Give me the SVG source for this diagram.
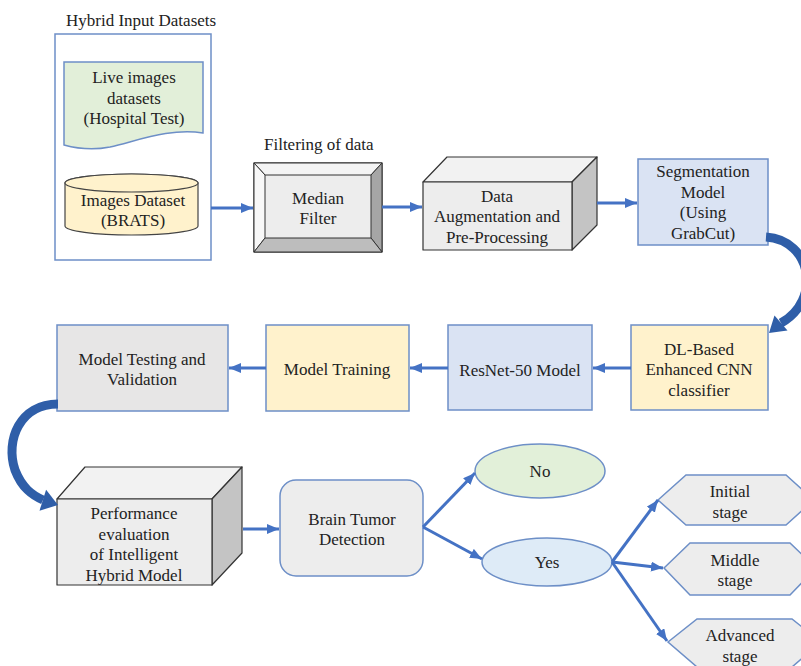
<svg xmlns="http://www.w3.org/2000/svg" width="801" height="666" viewBox="0 0 801 666">
<defs>
<style>
text{font-family:"Liberation Serif","Times New Roman",serif;font-size:17px;fill:#222;text-anchor:middle}
.lbl{text-anchor:start}
.box{stroke:#6d8fc7;stroke-width:1.5}
.cube{stroke:#333;stroke-width:1.2;stroke-linejoin:round}
.conn{stroke:#4472c4;stroke-width:3;fill:none}
.thick{stroke:#2f5ea8;stroke-width:9;fill:none}
</style>
<marker id="ah" viewBox="0 0 12 10" refX="12" refY="5" markerWidth="12" markerHeight="10" markerUnits="userSpaceOnUse" orient="auto">
<path d="M0,0 L12,5 L0,10 Z" fill="#4472c4"/>
</marker>
</defs>
<rect width="801" height="666" fill="#fff"/>

<g id="input-datasets">
<text class="lbl" x="66" y="26">Hybrid Input Datasets</text>
<rect x="55" y="34" width="156" height="226" fill="#fff" class="box"/>
</g>
<g id="live-images">
<path d="M64,62 H203 V133 C170,128 140,140 110,147 C90,151 75,148 64,145 Z" fill="#e2efd9" class="box"/>
<text x="134" y="83">Live images</text>
<text x="134" y="104">datasets</text>
<text x="134" y="124">(Hospital Test)</text>
</g>
<g id="brats">
<path d="M65,183 A66.5,9 0 0 1 198,183 V226 A66.5,9 0 0 1 65,226 Z" fill="#fff2cc" stroke="#444" stroke-width="1.2"/>
<ellipse cx="131.5" cy="183" rx="66.5" ry="9" fill="#fff2cc" stroke="#444" stroke-width="1.2"/>
<text x="133" y="206">Images Dataset</text>
<text x="133" y="226">(BRATS)</text>
</g>

<g id="median-filter">
<text class="lbl" x="264" y="150">Filtering of data</text>
<rect x="254" y="163" width="128" height="89" fill="#ededed" stroke="#333" stroke-width="1.2"/>
<polygon points="254,163 382,163 371,175 265,175" fill="#f4f4f4" stroke="#333" stroke-width="1"/>
<polygon points="254,163 265,175 265,238 254,252" fill="#f8f8f8" stroke="#333" stroke-width="1"/>
<polygon points="382,163 382,252 371,238 371,175" fill="#a6a6a6" stroke="#333" stroke-width="1"/>
<polygon points="254,252 265,238 371,238 382,252" fill="#bdbdbd" stroke="#333" stroke-width="1"/>
<text x="318" y="204">Median</text>
<text x="318" y="224">Filter</text>
</g>

<g id="data-augmentation">
<polygon points="423,182 447,157 597,157 572,182" fill="#f2f2f2" class="cube"/>
<polygon points="572,182 597,157 597,225 572,250" fill="#c4c4c4" class="cube"/>
<rect x="423" y="182" width="149" height="68" fill="#ededed" class="cube"/>
<text x="497" y="202">Data</text>
<text x="497" y="222">Augmentation and</text>
<text x="497" y="243">Pre-Processing</text>
</g>

<g id="segmentation">
<rect x="638" y="159" width="130" height="86" fill="#dae3f3" class="box"/>
<text x="703" y="177">Segmentation</text>
<text x="703" y="198">Model</text>
<text x="703" y="218">(Using</text>
<text x="703" y="239">GrabCut)</text>
</g>

<g id="dl-cnn">
<rect x="631" y="325" width="137" height="85" fill="#fff2cc" class="box"/>
<text x="699" y="355">DL-Based</text>
<text x="699" y="375">Enhanced CNN</text>
<text x="699" y="396">classifier</text>
</g>

<g id="resnet">
<rect x="448" y="325" width="144" height="85" fill="#dae3f3" class="box"/>
<text x="520" y="376">ResNet-50 Model</text>
</g>

<g id="model-training">
<rect x="266" y="325" width="143" height="86" fill="#fff2cc" class="box"/>
<text x="337" y="375">Model Training</text>
</g>

<g id="model-testing">
<rect x="57" y="325" width="171" height="86" fill="#e7e6e6" class="box"/>
<text x="142" y="365">Model Testing and</text>
<text x="142" y="385">Validation</text>
</g>

<g id="performance">
<polygon points="57,499 85,467 242,467 212,499" fill="#f2f2f2" class="cube"/>
<polygon points="212,499 242,467 242,553 212,585" fill="#c4c4c4" class="cube"/>
<rect x="57" y="499" width="155" height="86" fill="#ededed" class="cube"/>
<text x="134" y="519">Performance</text>
<text x="134" y="540">evaluation</text>
<text x="134" y="560">of Intelligent</text>
<text x="134" y="581">Hybrid Model</text>
</g>

<g id="brain-tumor">
<rect x="280" y="480" width="143" height="96" rx="16" fill="#ededed" class="box"/>
<text x="352" y="525">Brain Tumor</text>
<text x="352" y="545">Detection</text>
</g>

<g id="no">
<ellipse cx="540" cy="471" rx="65" ry="27" fill="#e2f0d9" class="box"/>
<text x="540" y="477">No</text>
</g>

<g id="yes">
<ellipse cx="547" cy="562" rx="65" ry="24" fill="#deebf7" class="box"/>
<text x="547" y="568">Yes</text>
</g>

<g id="initial">
<polygon points="658,500 686,475 786,475 814,500 786,525 686,525" fill="#ededed" class="box"/>
<text x="730" y="497">Initial</text>
<text x="730" y="518">stage</text>
</g>
<g id="middle">
<polygon points="664,568 690,543 790,543 816,568 790,595 690,595" fill="#ededed" class="box"/>
<text x="735" y="566">Middle</text>
<text x="735" y="586">stage</text>
</g>
<g id="advanced">
<polygon points="668,642 697,619 792,619 821,642 792,667 697,667" fill="#ededed" class="box"/>
<text x="740" y="641">Advanced</text>
<text x="740" y="662">stage</text>
</g>

<g id="connectors">
<line class="conn" x1="211" y1="208" x2="253" y2="208" marker-end="url(#ah)"/>
<line class="conn" x1="382" y1="207" x2="422" y2="207" marker-end="url(#ah)"/>
<line class="conn" x1="597" y1="203" x2="637" y2="203" marker-end="url(#ah)"/>
<line class="conn" x1="631" y1="368" x2="593" y2="368" marker-end="url(#ah)"/>
<line class="conn" x1="448" y1="368" x2="410" y2="368" marker-end="url(#ah)"/>
<line class="conn" x1="266" y1="368" x2="229" y2="368" marker-end="url(#ah)"/>
<line class="conn" x1="243" y1="529" x2="279" y2="529" marker-end="url(#ah)"/>
<line class="conn" x1="423" y1="527" x2="475" y2="473" marker-end="url(#ah)"/>
<line class="conn" x1="423" y1="527" x2="482" y2="559" marker-end="url(#ah)"/>
<line class="conn" x1="612" y1="562" x2="658" y2="500" marker-end="url(#ah)"/>
<line class="conn" x1="612" y1="562" x2="663" y2="568" marker-end="url(#ah)"/>
<line class="conn" x1="612" y1="562" x2="667" y2="641" marker-end="url(#ah)"/>
<path class="thick" d="M766,237 C812,240 822,300 781,323"/>
<polygon points="769,333 787.5,330.6 774.5,315.4" fill="#2f5ea8"/>
<path class="thick" d="M58,404 C20,404 5,440 15,470 C22,488 32,495 43,500"/>
<polygon points="58,505 39.5,510.7 46.1,489.7" fill="#2f5ea8"/>
</g>
</svg>
